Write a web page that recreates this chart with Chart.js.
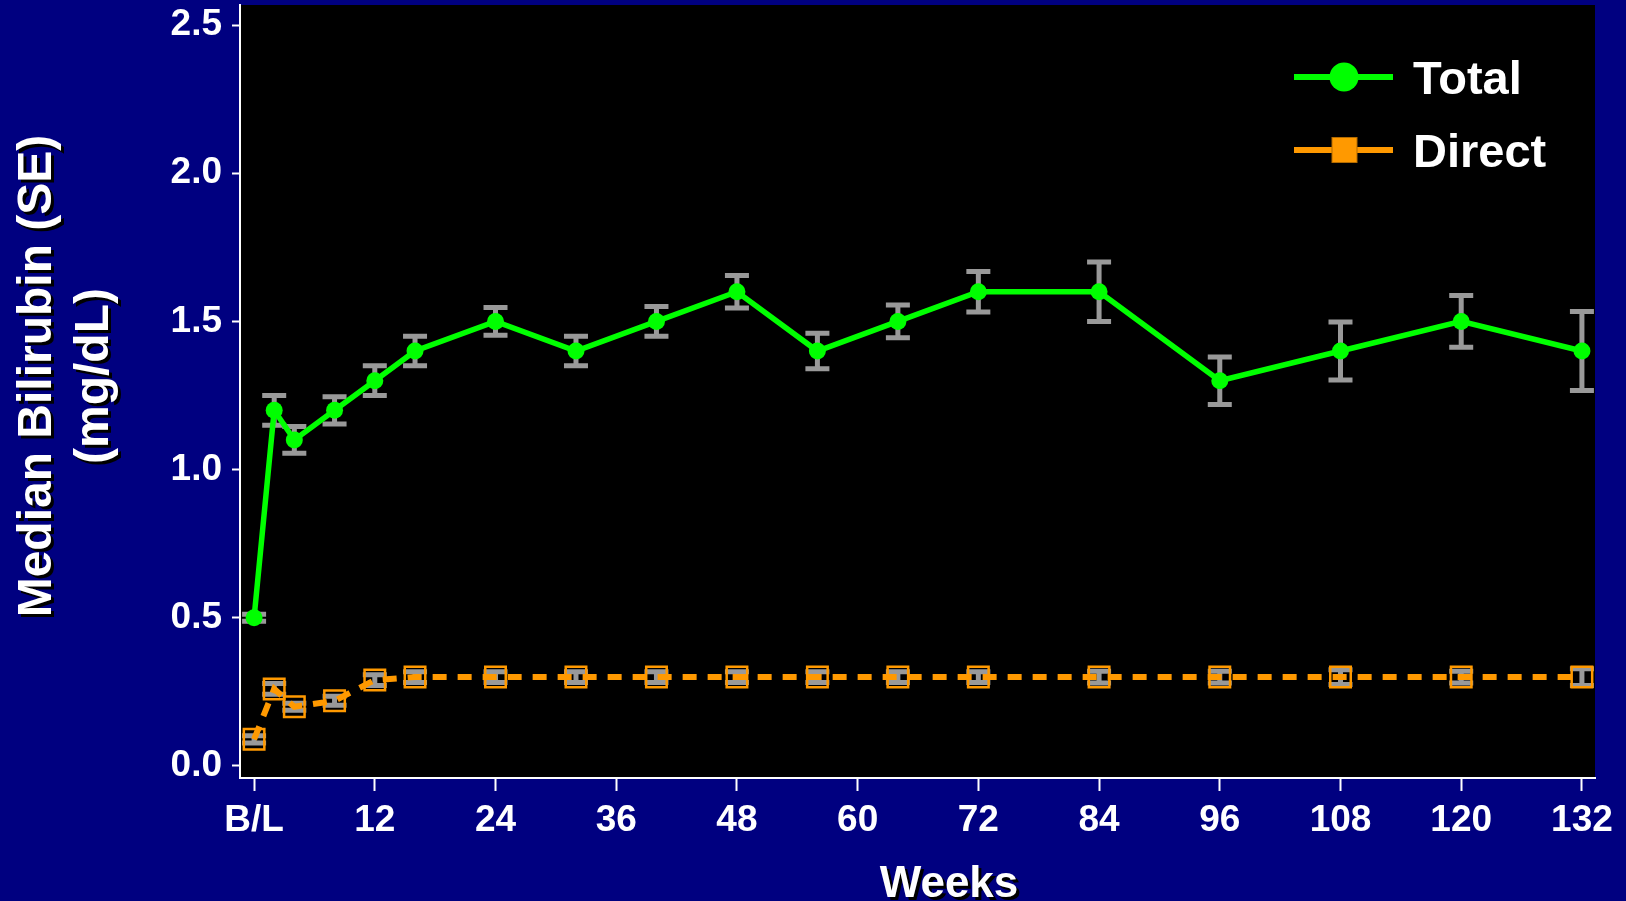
<!DOCTYPE html>
<html>
<head>
<meta charset="utf-8">
<script src="https://cdn.jsdelivr.net/npm/chart.js@4.4.1/dist/chart.umd.min.js"></script>
<style>
  html, body { margin: 0; padding: 0; background: #000080; overflow: hidden; }
  canvas { display: block; }
</style>
</head>
<body>
<canvas id="c" width="1626" height="901"></canvas>
<script>
// Study visits (weeks from baseline)
const weeks = [0, 2, 4, 8, 12, 16, 24, 32, 40, 48, 56, 64, 72, 84, 96, 108, 120, 132];

// Total bilirubin: median and standard error (mg/dL)
const totalMedian = [0.5, 1.2, 1.1, 1.2, 1.3, 1.4, 1.5, 1.4, 1.5, 1.6, 1.4, 1.5, 1.6, 1.6, 1.3, 1.4, 1.5, 1.4];
const totalSE     = [0.012, 0.05, 0.045, 0.046, 0.05, 0.05, 0.047, 0.05, 0.05, 0.055, 0.06, 0.055, 0.068, 0.1, 0.08, 0.098, 0.087, 0.133];

// Direct bilirubin: median and standard error (mg/dL)
const directMedian = [0.09, 0.26, 0.2, 0.22, 0.29, 0.3, 0.3, 0.3, 0.3, 0.3, 0.3, 0.3, 0.3, 0.3, 0.3, 0.3, 0.3, 0.3];
const directSE     = [0.012, 0.018, 0.012, 0.015, 0.018, 0.018, 0.018, 0.018, 0.018, 0.018, 0.018, 0.018, 0.018, 0.02, 0.02, 0.025, 0.02, 0.028];

// Axis ticks
const xTickValues = [0, 12, 24, 36, 48, 60, 72, 84, 96, 108, 120, 132];
const xTickLabels = ['B/L', '12', '24', '36', '48', '60', '72', '84', '96', '108', '120', '132'];
const yTickValues = [0, 0.5, 1.0, 1.5, 2.0, 2.5];

const seriesNames = ['Total', 'Direct'];
const GREEN = '#00ff00';
const ORANGE = '#ff9900';
const GRAY = '#999999';
const FONT = '"Liberation Sans", Arial, Helvetica, sans-serif';

const toPoints = (ys) => weeks.map((w, i) => ({ x: w, y: ys[i] }));

// Black plotting area behind everything
const plotBackground = {
  id: 'plotBackground',
  beforeDraw(chart) {
    const { ctx, chartArea: a } = chart;
    ctx.save();
    ctx.fillStyle = '#000000';
    ctx.fillRect(a.left, a.top, a.right - a.left, a.bottom - a.top);
    ctx.restore();
  }
};

// Gray SE whiskers under the markers
const errorBars = {
  id: 'errorBars',
  beforeDatasetsDraw(chart) {
    const { ctx, scales: { x, y } } = chart;
    ctx.save();
    ctx.strokeStyle = GRAY;
    ctx.lineWidth = 5;
    ctx.lineCap = 'butt';
    chart.data.datasets.forEach((ds) => {
      const se = ds.se;
      ds.data.forEach((p, i) => {
        const px = x.getPixelForValue(p.x);
        const top = y.getPixelForValue(p.y + se[i]);
        const bot = y.getPixelForValue(p.y - se[i]);
        const half = 12;
        ctx.beginPath();
        ctx.moveTo(px, top); ctx.lineTo(px, bot);
        ctx.moveTo(px - half, top); ctx.lineTo(px + half, top);
        ctx.moveTo(px - half, bot); ctx.lineTo(px + half, bot);
        ctx.stroke();
      });
    });
    ctx.restore();
  }
};

// Axis titles and legend
const annotations = {
  id: 'annotations',
  afterDraw(chart) {
    const { ctx } = chart;
    ctx.save();
    ctx.fillStyle = '#ffffff';
    ctx.shadowColor = '#000000';
    ctx.shadowOffsetX = 3;
    ctx.shadowOffsetY = 3;
    ctx.shadowBlur = 0;

    // Y axis title, two rotated lines
    ctx.font = `bold 48px ${FONT}`;
    ctx.textAlign = 'center';
    ctx.textBaseline = 'alphabetic';
    ctx.save();
    ctx.translate(51, 376);
    ctx.rotate(-Math.PI / 2);
    ctx.fillText('Median Bilirubin (SE)', 0, 0);
    ctx.restore();
    ctx.save();
    ctx.translate(108, 376);
    ctx.rotate(-Math.PI / 2);
    ctx.fillText('(mg/dL)', 0, 0);
    ctx.restore();

    // X axis title
    ctx.font = `bold 44px ${FONT}`;
    ctx.fillText('Weeks', 949, 897);

    // Legend
    ctx.shadowColor = 'rgba(0,0,0,0)';
    ctx.shadowOffsetX = 0;
    ctx.shadowOffsetY = 0;
    const rows = [
      { y: 77, color: GREEN, marker: 'circle', label: seriesNames[0] },
      { y: 150, color: ORANGE, marker: 'square', label: seriesNames[1] }
    ];
    rows.forEach((r) => {
      ctx.strokeStyle = r.color;
      ctx.lineWidth = 6;
      ctx.beginPath();
      ctx.moveTo(1294, r.y);
      ctx.lineTo(1393, r.y);
      ctx.stroke();
      ctx.fillStyle = r.color;
      if (r.marker === 'circle') {
        ctx.beginPath();
        ctx.arc(1344, r.y, 14.5, 0, Math.PI * 2);
        ctx.fill();
      } else {
        ctx.fillRect(1332, r.y - 12.5, 25, 25);
        ctx.strokeStyle = '#b36b00';
        ctx.lineWidth = 1;
        ctx.strokeRect(1332, r.y - 12.5, 25, 25);
      }
      ctx.fillStyle = '#ffffff';
      ctx.font = `bold 47px ${FONT}`;
      ctx.textAlign = 'left';
      ctx.textBaseline = 'alphabetic';
      ctx.fillText(r.label, 1413, r.y + 17);
    });
    ctx.restore();
  }
};

new Chart(document.getElementById('c'), {
  type: 'line',
  data: {
    datasets: [
      {
        label: seriesNames[1],
        data: toPoints(directMedian),
        se: directSE,
        borderColor: ORANGE,
        borderWidth: 6,
        borderDash: [14, 11],
        pointStyle: 'rect',
        pointRadius: 14.5,
        pointBackgroundColor: 'rgba(0,0,0,0)',
        pointBorderColor: ORANGE,
        pointBorderWidth: 2.5,
        tension: 0,
        order: 2
      },
      {
        label: seriesNames[0],
        data: toPoints(totalMedian),
        se: totalSE,
        borderColor: GREEN,
        borderWidth: 5.5,
        pointStyle: 'circle',
        pointRadius: 8.5,
        pointBackgroundColor: GREEN,
        pointBorderColor: GREEN,
        pointBorderWidth: 0,
        tension: 0,
        order: 1
      }
    ]
  },
  options: {
    responsive: false,
    animation: false,
    devicePixelRatio: 1,
    layout: { autoPadding: false, padding: { top: 5, right: 31, left: 0, bottom: 0 } },
    plugins: { legend: { display: false }, tooltip: { enabled: false } },
    scales: {
      x: {
        type: 'linear',
        min: -1.4,
        max: 133.3,
        afterFit(scale) {
          scale.height = 123;
          scale.paddingLeft = 0; scale.paddingRight = 0;
        },
        afterBuildTicks(scale) { scale.ticks = xTickValues.map((v) => ({ value: v })); },
        ticks: {
          color: '#ffffff',
          font: { family: FONT, size: 37, weight: 'bold' },
          padding: 8,
          maxRotation: 0,
          autoSkip: false,
          callback: (v) => {
            const i = xTickValues.indexOf(v);
            return i >= 0 ? xTickLabels[i] : '';
          }
        },
        grid: { drawOnChartArea: false, drawTicks: true, tickLength: 13, tickColor: '#ffffff', tickWidth: 2 },
        border: { display: true, color: '#ffffff', width: 2 }
      },
      y: {
        type: 'linear',
        min: -0.0405,
        max: 2.5675,
        afterFit(scale) {
          scale.width = 240;
          scale.paddingTop = 0; scale.paddingBottom = 0;
        },
        afterBuildTicks(scale) { scale.ticks = yTickValues.map((v) => ({ value: v })); },
        ticks: {
          color: '#ffffff',
          font: { family: FONT, size: 37, weight: 'bold' },
          padding: 10,
          callback: (v) => Number(v).toFixed(1)
        },
        grid: { drawOnChartArea: false, drawTicks: true, tickLength: 8, tickColor: '#ffffff', tickWidth: 2 },
        border: { display: true, color: '#ffffff', width: 2 }
      }
    }
  },
  plugins: [plotBackground, errorBars, annotations]
});
</script>
</body>
</html>
